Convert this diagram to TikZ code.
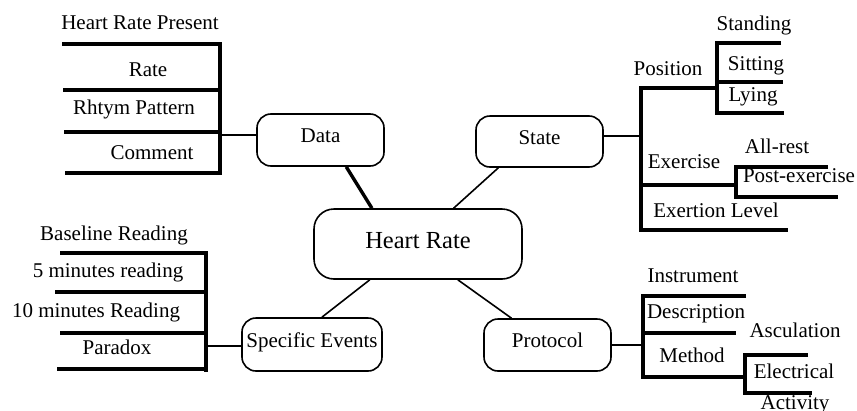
\documentclass[tikz,border=0pt]{standalone}
\usepackage{fontspec}
\setmainfont{Liberation Serif}
\usetikzlibrary{calc}
\begin{document}
\begin{tikzpicture}[x=1pt,y=-1pt,
  box/.style={draw, rounded corners=14pt, line width=1.6pt, minimum width=127pt,
    minimum height=52pt, inner sep=0pt, font=\fontsize{21}{25}\selectfont,
    text height=15pt, text depth=10pt},
  leaf/.style={anchor=base, inner sep=0pt, font=\fontsize{21}{25}\selectfont},
  bar/.style={line width=3.6pt},
  link/.style={line width=1.6pt}]
\useasboundingbox (0,0) rectangle (857,410);

% central topic and the four branches
\node[box, minimum width=208pt, minimum height=70pt, rounded corners=20pt,
  font=\fontsize{24.5}{29}\selectfont, text height=18pt, text depth=10pt] (hr) at (418,244) {Heart Rate};
\node[box] (data) at (320.5,140) {Data};
\node[box, minimum height=51pt] (state) at (539.5,141.5) {State};
\node[box, minimum width=140pt, minimum height=53pt] (events) at (312,344.5) {Specific Events};
\node[box] (protocol) at (547.5,345) {Protocol};

% links from the centre
\draw[line width=3.4pt] ($(data.south west)!0.70!(data.south east)$) -- ($(hr.north west)!0.28!(hr.north east)$);
\draw[link] ($(state.south west)!0.18!(state.south east)$) -- ($(hr.north west)!0.67!(hr.north east)$);
\draw[link] ($(hr.south west)!0.27!(hr.south east)$) -- ($(events.north west)!0.57!(events.north east)$);
\draw[link] ($(hr.south west)!0.69!(hr.south east)$) -- ($(protocol.north west)!0.22!(protocol.north east)$);

% Data bracket
\coordinate (dsp) at (220,135);
\draw[bar] (62,44) -| (220,175);
\draw[bar] (63,90) -- (220,90);
\draw[bar] (64,132) -- (220,132);
\draw[bar] (65,173) -- (220,173);
\draw[link] (dsp) -- (dsp -| data.west);
\node[leaf] (hrp) at (140,29) {Heart Rate Present};
\node[leaf] (rate) at (148,76) {Rate};
\node[leaf] (rhythm) at (134,114) {Rhtym Pattern};
\node[leaf] (comment) at (152,159) {Comment};

% State bracket
\coordinate (ssp) at (641,136);
\draw[bar] (717,88) -- (641,88) -- (641,230) -- (788,230);
\draw[bar] (641,185) -- (736,185);
\draw[bar] (781,43) -- (717,43) -- (717,113) -- (784,113);
\draw[bar] (717,82) -- (783,82);
\draw[bar] (828,167) -- (736,167) -- (736,197) -- (838,197);
\draw[link] (state.east |- ssp) -- (ssp);
\node[leaf] (standing) at (754,30) {Standing};
\node[leaf] (position) at (668,75) {Position};
\node[leaf] (sitting) at (756,70) {Sitting};
\node[leaf] (lying) at (753,101) {Lying};
\node[leaf] (allrest) at (777,153) {All-rest};
\node[leaf] (exercise) at (684,168) {Exercise};
\node[leaf] (postex) at (799,182) {Post-exercise};
\node[leaf] (exertion) at (716,217) {Exertion Level};

% Specific Events bracket
\coordinate (esp) at (206,346);
\draw[bar] (60,253) -| (206,372);
\draw[bar] (55,292) -- (206,292);
\draw[bar] (60,333) -- (206,333);
\draw[bar] (57,369) -- (206,369);
\draw[link] (esp) -- (esp -| events.west);
\node[leaf] (baseline) at (114,240) {Baseline Reading};
\node[leaf] (five) at (108,277) {5 minutes reading};
\node[leaf] (ten) at (96,317) {10 minutes Reading};
\node[leaf] (paradox) at (117,354) {Paradox};

% Protocol bracket
\coordinate (psp) at (643,345);
\draw[bar] (746,296) -- (643,296) -- (643,377) -- (745,377);
\draw[bar] (643,333) -- (736,333);
\draw[bar] (808,355) -- (745,355) -- (745,393) -- (812,393);
\draw[link] (protocol.east |- psp) -- (psp);
\node[leaf] (instrument) at (693,282) {Instrument};
\node[leaf] (description) at (696,318) {Description};
\node[leaf] (asculation) at (795,337) {Asculation};
\node[leaf] (method) at (692,362) {Method};
\node[leaf] (electrical) at (794,378) {Electrical};
\node[leaf] (activity) at (795,409) {Activity};
\end{tikzpicture}
\end{document}
